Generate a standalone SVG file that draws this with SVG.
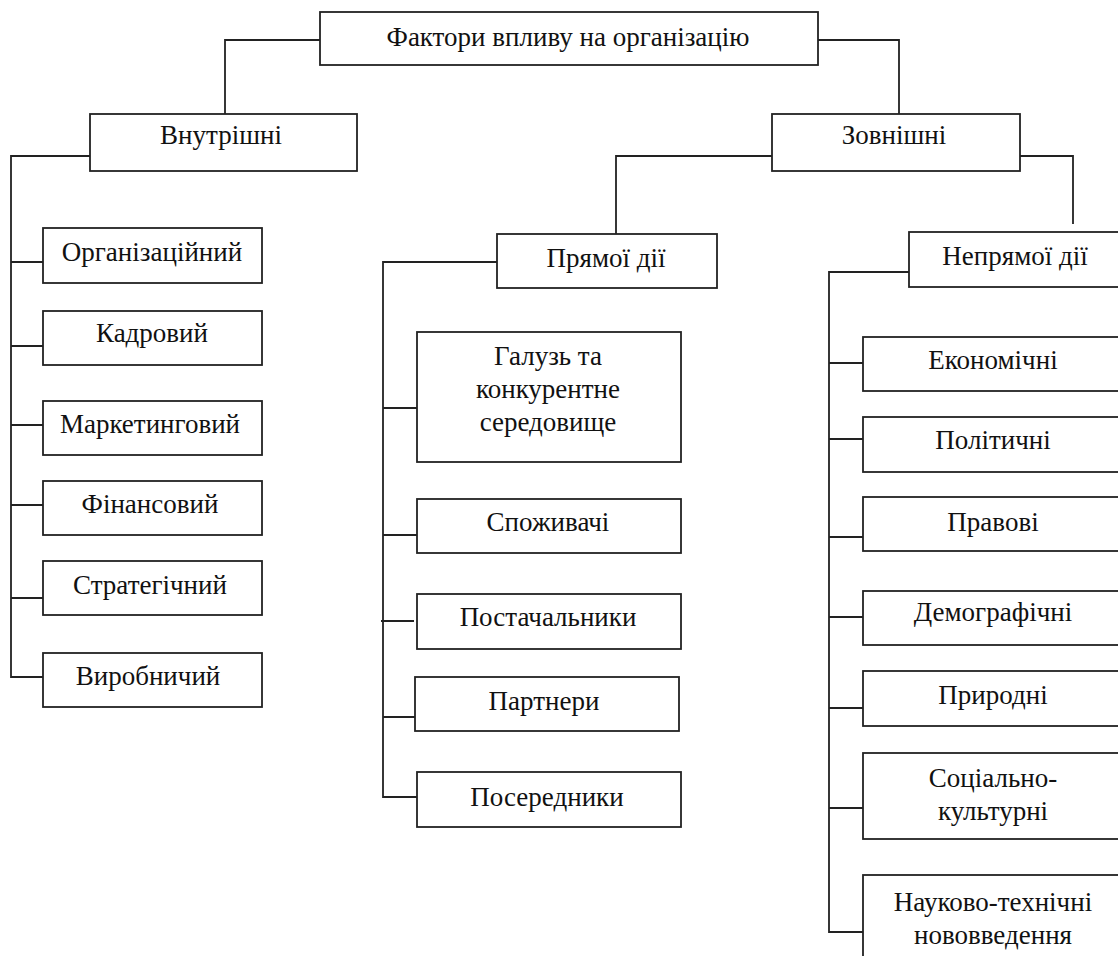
<svg xmlns="http://www.w3.org/2000/svg" width="1118" height="956" viewBox="0 0 1118 956">
<style>
.b{fill:#fff;stroke:#222;stroke-width:1.8}
.c{fill:none;stroke:#222;stroke-width:1.8}
text{font-family:"Liberation Serif","Times New Roman",serif;font-size:27px;fill:#111;text-anchor:middle;dominant-baseline:central}
</style>
<rect width="1118" height="956" fill="#fff"/>
<g id="connectors">
<path class="c" d="M320,40H225V114"/>
<path class="c" d="M818,40H899V114"/>
<path class="c" d="M90,156H11V677H43M11,262H43M11,346H43M11,425H43M11,505H43M11,598H43"/>
<path class="c" d="M772,156H616V234"/>
<path class="c" d="M1020,156H1073V224"/>
<path class="c" d="M497,262H383V797H417M383,408H417M383,535H417M381,621H414M383,717H415"/>
<path class="c" d="M909,272H829V932H863M829,363H863M829,439H863M829,537H863M829,617H863M829,708H863M829,808H863"/>
</g>
<g id="root"><rect class="b" x="320" y="12" width="498" height="53"/><text x="568" y="37">Фактори впливу на організацію</text></g>
<g id="internal"><rect class="b" x="90" y="114" width="267" height="57"/><text x="221" y="135">Внутрішні</text></g>
<g id="external"><rect class="b" x="772" y="114" width="248" height="57"/><text x="894" y="135">Зовнішні</text></g>
<g id="direct"><rect class="b" x="497" y="234" width="220" height="54"/><text x="606" y="258">Прямої дії</text></g>
<g id="indirect"><rect class="b" x="909" y="232" width="215" height="55"/><text x="1015" y="256">Непрямої дії</text></g>
<g id="i1"><rect class="b" x="43" y="228" width="219" height="55"/><text x="152" y="252">Організаційний</text></g>
<g id="i2"><rect class="b" x="43" y="311" width="219" height="54"/><text x="152" y="333">Кадровий</text></g>
<g id="i3"><rect class="b" x="43" y="401" width="219" height="54"/><text x="150" y="424">Маркетинговий</text></g>
<g id="i4"><rect class="b" x="43" y="481" width="219" height="54"/><text x="150" y="504">Фінансовий</text></g>
<g id="i5"><rect class="b" x="43" y="561" width="219" height="54"/><text x="150" y="585">Стратегічний</text></g>
<g id="i6"><rect class="b" x="43" y="653" width="219" height="54"/><text x="148" y="676">Виробничий</text></g>
<g id="d1"><rect class="b" x="417" y="332" width="264" height="130"/><text x="548" y="356">Галузь та</text><text x="548" y="389">конкурентне</text><text x="548" y="422">середовище</text></g>
<g id="d2"><rect class="b" x="417" y="499" width="264" height="54"/><text x="548" y="522">Споживачі</text></g>
<g id="d3"><rect class="b" x="417" y="594" width="264" height="55"/><text x="548" y="617">Постачальники</text></g>
<g id="d4"><rect class="b" x="415" y="677" width="264" height="54"/><text x="544" y="701">Партнери</text></g>
<g id="d5"><rect class="b" x="417" y="772" width="264" height="55"/><text x="547" y="797">Посередники</text></g>
<g id="n1"><rect class="b" x="863" y="337" width="262" height="54"/><text x="993" y="360">Економічні</text></g>
<g id="n2"><rect class="b" x="863" y="417" width="262" height="55"/><text x="993" y="440">Політичні</text></g>
<g id="n3"><rect class="b" x="863" y="497" width="262" height="54"/><text x="993" y="522">Правові</text></g>
<g id="n4"><rect class="b" x="863" y="591" width="262" height="54"/><text x="993" y="612">Демографічні</text></g>
<g id="n5"><rect class="b" x="863" y="671" width="262" height="55"/><text x="993" y="695">Природні</text></g>
<g id="n6"><rect class="b" x="863" y="753" width="262" height="86"/><text x="993" y="778">Соціально-</text><text x="993" y="811">культурні</text></g>
<g id="n7"><rect class="b" x="863" y="875" width="262" height="100"/><text x="993" y="902">Науково-технічні</text><text x="993" y="935">нововведення</text></g>
</svg>
